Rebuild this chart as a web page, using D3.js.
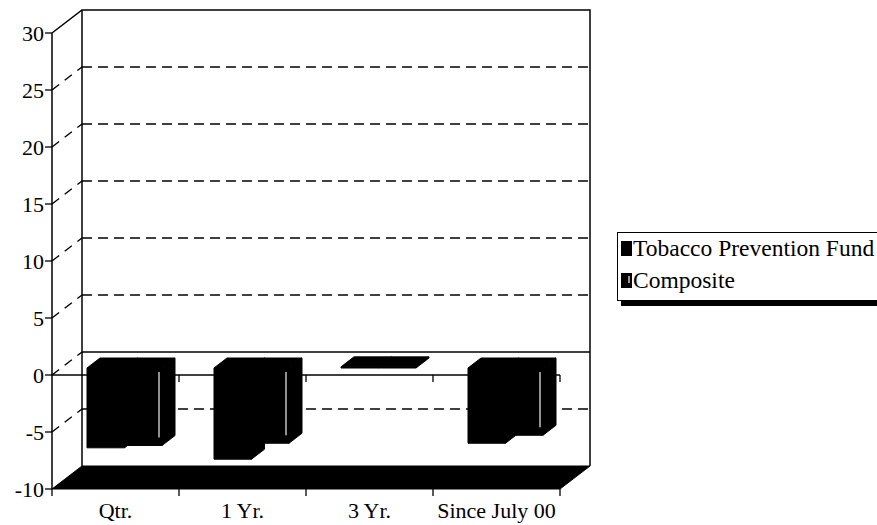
<!DOCTYPE html>
<html>
<head>
<meta charset="utf-8">
<script src="https://cdn.jsdelivr.net/npm/d3@7"></script>
<style>
  body { margin: 0; background: #fff; }
</style>
</head>
<body>
<svg></svg>
<script>
//Data
const categories = ["Qtr.", "1 Yr.", "3 Yr.", "Since July 00"];
const seriesNames = ["Tobacco Prevention Fund", "Composite"];
const tobaccoValues = [-7.0, -8.0, 0.1, -6.6];
const compositeValues = [-6.8, -6.6, 0.1, -5.9];
const yTicks = [-10, -5, 0, 5, 10, 15, 20, 25, 30];

//Dimensions
const width = 877, height = 525;
const font = "'Liberation Serif', 'Times New Roman', 'DejaVu Serif', serif";
const svg = d3.select("svg").attr("width", width).attr("height", height)
  .style("font-family", font).style("font-size", "22px");

const x = d3.scaleBand().domain(categories).range([52, 560]);
const y = d3.scaleLinear().domain([-10, 30]).range([489, 33]);
const inner = d3.scaleBand().domain([0, 1]).range([26, 101]);

// wall depth, bar plane offset, bar depth
const wall = [30, -23], plane = [9, -7], depth = [13, -10];
const x0 = x.range()[0], x1 = x.range()[1];

//Back wall gridlines
yTicks.filter(t => t > -10 && t < 30).forEach(t => {
  const dash = t === 0 ? null : "10,6";
  svg.append("line")
    .attr("x1", x0 + wall[0]).attr("x2", x1 + wall[0])
    .attr("y1", y(t) + wall[1]).attr("y2", y(t) + wall[1])
    .attr("stroke", "#000").attr("stroke-width", 1.4)
    .attr("stroke-dasharray", dash);
  svg.append("line")
    .attr("x1", x0).attr("y1", y(t))
    .attr("x2", x0 + wall[0]).attr("y2", y(t) + wall[1])
    .attr("stroke", "#000").attr("stroke-width", 1.4)
    .attr("stroke-dasharray", "9,7");
});

//Back wall frame
svg.append("path")
  .attr("d", d3.line()([
    [x0, y(30)], [x0 + wall[0], y(30) + wall[1]], [x1 + wall[0], y(30) + wall[1]], [x1 + wall[0], y(-10) + wall[1]]
  ]))
  .attr("fill", "none").attr("stroke", "#000").attr("stroke-width", 1.5);
svg.append("line")
  .attr("x1", x0 + wall[0]).attr("x2", x0 + wall[0])
  .attr("y1", y(30) + wall[1]).attr("y2", y(-10) + wall[1])
  .attr("stroke", "#000").attr("stroke-width", 1.5);

//Floor
svg.append("path")
  .attr("d", d3.line()([
    [x0, y(-10)], [x0 + wall[0], y(-10) + wall[1]], [x1 + wall[0], y(-10) + wall[1]], [x1, y(-10)]
  ]) + "Z")
  .attr("fill", "#000").attr("stroke", "#000");

//Front zero line with ticks
svg.append("line")
  .attr("x1", x0).attr("x2", x1).attr("y1", y(0)).attr("y2", y(0))
  .attr("stroke", "#000").attr("stroke-width", 1.4);
categories.forEach(c => {
  svg.append("line")
    .attr("x1", x.bandwidth() + x(c)).attr("x2", x.bandwidth() + x(c))
    .attr("y1", y(0)).attr("y2", y(0) + 7)
    .attr("stroke", "#000").attr("stroke-width", 1.3);
});

//Bars
function drawBar(g, left, w, v) {
  const px = left + plane[0];
  const a = y(0) + plane[1], b = y(v) + plane[1];
  const top = Math.min(a, b), bot = Math.max(a, b);
  const faces = [
    [[px, top], [px + w, top], [px + w, bot], [px, bot]],
    [[px, top], [px + depth[0], top + depth[1]], [px + w + depth[0], top + depth[1]], [px + w, top]],
    [[px + w, top], [px + w + depth[0], top + depth[1]], [px + w + depth[0], bot + depth[1]], [px + w, bot]]
  ];
  faces.forEach(f => {
    g.append("path").attr("d", d3.line()(f) + "Z")
      .attr("fill", "#000").attr("stroke", "#000").attr("stroke-width", 1).attr("stroke-linejoin", "round");
  });
  return { px, top, bot };
}

categories.forEach((c, i) => {
  const g = svg.append("g");
  drawBar(g, x(c) + inner(0), inner.bandwidth(), tobaccoValues[i]);
  const r = drawBar(g, x(c) + inner(1), inner.bandwidth(), compositeValues[i]);
  if (r.bot - r.top > 20) {
    g.append("line")
      .attr("x1", r.px + inner.bandwidth() - 3).attr("x2", r.px + inner.bandwidth() - 3)
      .attr("y1", r.top + 4).attr("y2", r.bot - 8)
      .attr("stroke", "#e0e0e0").attr("stroke-width", 1.3);
  }
});

//Y axis
svg.append("line")
  .attr("x1", x0).attr("x2", x0).attr("y1", y(30)).attr("y2", y(-10))
  .attr("stroke", "#000").attr("stroke-width", 1.5);
yTicks.forEach(t => {
  svg.append("line")
    .attr("x1", x0 - 7).attr("x2", x0).attr("y1", y(t)).attr("y2", y(t))
    .attr("stroke", "#000").attr("stroke-width", 1.3);
  svg.append("text")
    .attr("x", x0 - 8).attr("y", y(t)).attr("dy", "0.35em")
    .attr("text-anchor", "end").text(t);
});

//X axis ticks and labels
[x0].concat(categories.map(c => x(c) + x.bandwidth())).forEach(tx => {
  svg.append("line")
    .attr("x1", tx).attr("x2", tx).attr("y1", y(-10)).attr("y2", y(-10) + 7)
    .attr("stroke", "#000").attr("stroke-width", 1.3);
});
categories.forEach(c => {
  svg.append("text")
    .attr("x", x(c) + x.bandwidth() / 2).attr("y", 518)
    .attr("text-anchor", "middle").text(c);
});

//Legend
const legend = svg.append("g").style("font-size", "23.5px");
legend.append("rect").attr("x", 621).attr("y", 300).attr("width", 270).attr("height", 6).attr("fill", "#000");
legend.append("rect").attr("x", 617.5).attr("y", 232.5).attr("width", 280).attr("height", 68)
  .attr("fill", "#fff").attr("stroke", "#000").attr("stroke-width", 1);
seriesNames.forEach((name, i) => {
  const ly = 241 + i * 32;
  legend.append("rect").attr("x", 621).attr("y", ly).attr("width", 11).attr("height", 15).attr("fill", "#000");
  if (i === 1) {
    legend.append("line").attr("x1", 629).attr("x2", 629).attr("y1", ly + 3).attr("y2", ly + 10)
      .attr("stroke", "#fff").attr("stroke-width", 1.2);
  }
  legend.append("text").attr("x", 633).attr("y", ly + 15).text(name);
});
</script>
</body>
</html>
